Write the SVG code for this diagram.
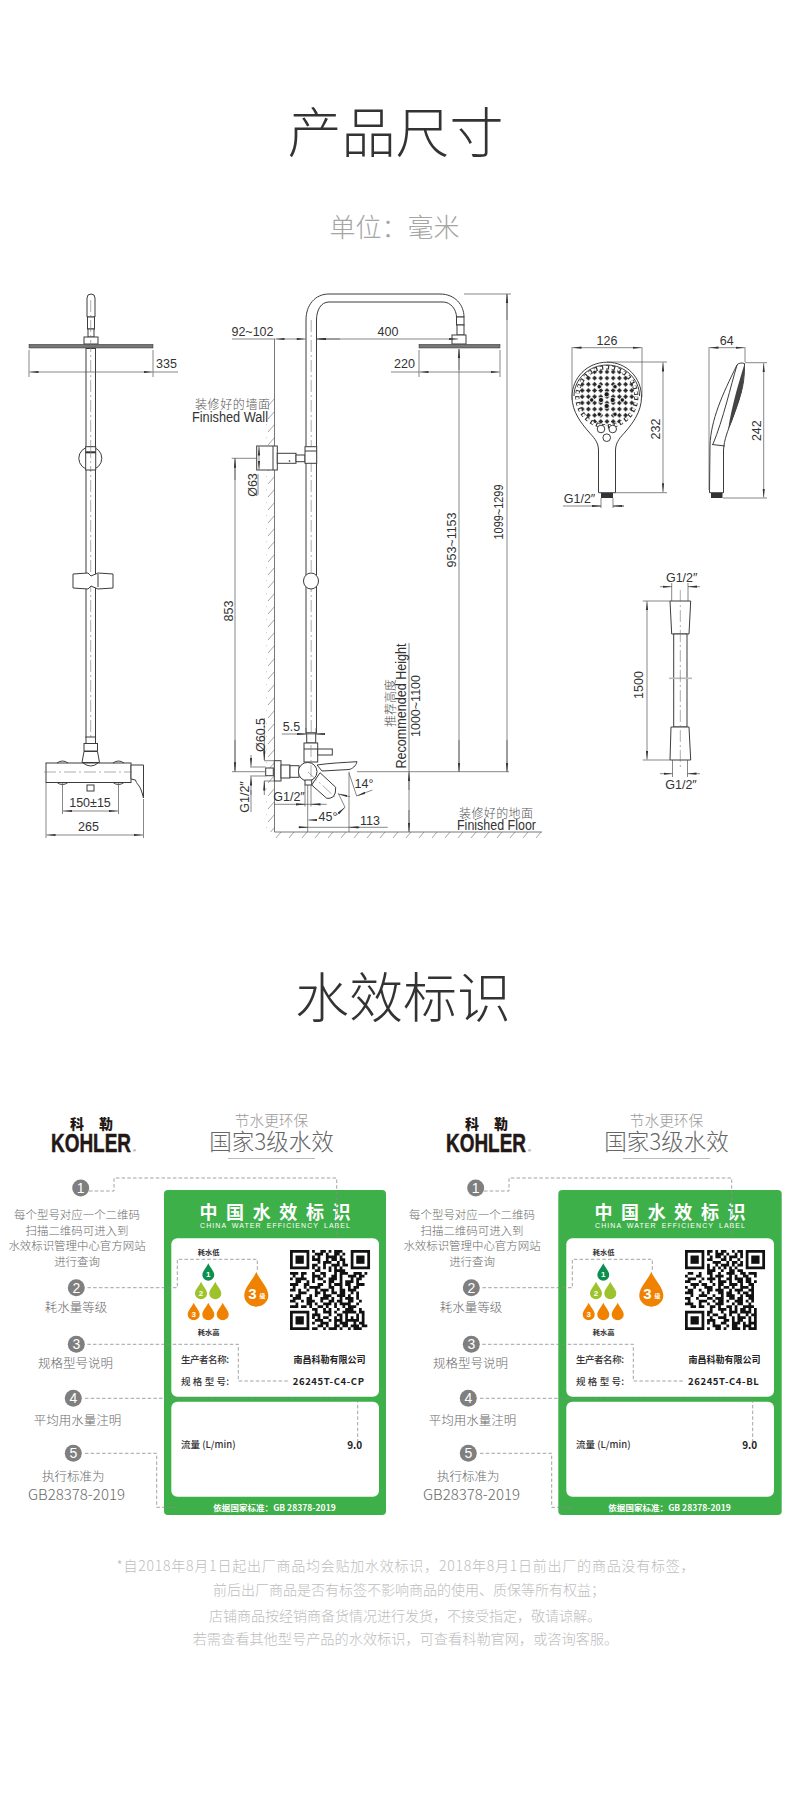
<svg xmlns="http://www.w3.org/2000/svg" width="790" height="1797" viewBox="0 0 790 1797">
<style>
text{font-family:"Liberation Sans","Noto Sans CJK SC",sans-serif;text-anchor:middle;dominant-baseline:central}
.h{font-family:"Noto Sans CJK SC",sans-serif;font-size:54px;font-weight:300;fill:#333}
.dim{font-size:12.5px;fill:#333}
.tall{font-size:14px;fill:#333}
.cn{font-family:"Noto Sans CJK SC",sans-serif;font-size:12px;fill:#555;font-weight:300}
.o{fill:#fff;stroke:#3c3c3c;stroke-width:1}
.on{fill:none;stroke:#3c3c3c;stroke-width:1}
.thin{fill:none;stroke:#555;stroke-width:.7}
.cl{fill:none;stroke:#777;stroke-width:.6;stroke-dasharray:12 3 2 3}
.d{fill:none;stroke:#555;stroke-width:.7;marker-start:url(#a);marker-end:url(#a)}
.e{fill:none;stroke:#555;stroke-width:.7;marker-end:url(#a)}
.dash{fill:none;stroke:#8a8a8a;stroke-width:.8;stroke-dasharray:3.5 2.2}
.g{font-family:"Noto Sans CJK SC",sans-serif;font-size:12.5px;fill:#6a6a6a;font-weight:300}
.n{fill:#7f7f7f}
.nt{font-size:14px;fill:#fff}
.wb{font-family:"Noto Sans CJK SC",sans-serif;fill:#fff;font-weight:700}
.lb{font-family:"Noto Sans CJK SC",sans-serif;font-size:9.5px;fill:#333;font-weight:500}
.bk{font-family:"Noto Sans CJK SC",sans-serif;font-size:9px;fill:#222;font-weight:700}
.ft{font-family:"Noto Sans CJK SC",sans-serif;font-size:14px;fill:#bdbdbd;font-weight:300}
</style>
<defs>
<marker id="a" markerUnits="userSpaceOnUse" markerWidth="10" markerHeight="4" refX="9" refY="2" orient="auto-start-reverse"><path d="M0 .9L9 2L0 3.1Z" fill="#333"/></marker>
<pattern id="hw" patternUnits="userSpaceOnUse" width="8" height="13" x="267" y="397"><path d="M1 9L8 1" stroke="#666" stroke-width=".6" fill="none"/></pattern>
<pattern id="hg" patternUnits="userSpaceOnUse" width="13" height="6" x="275" y="832"><path d="M1 6L6 0" stroke="#666" stroke-width=".6" fill="none"/></pattern>
<pattern id="lat" patternUnits="userSpaceOnUse" width="6.2" height="6.2" x="603.9" y="393.6"><rect width="6.2" height="6.2" fill="#fff"/><path d="M3.1 .7L5.5 3.1L3.1 5.5L.7 3.1Z" fill="#2a2a2a"/></pattern>
<clipPath id="fc"><circle cx="606.8" cy="396.8" r="29"/></clipPath>
<path id="drop" d="M0-10C1.5-6 7-1 7 3.5A7 6.5 0 0 1-7 3.5C-7-1-1.500-6 0-10Z"/>
<g id="qrf"><path d="M0 0h7v7h-7zM1 1v5h5v-5z" fill="#111" fill-rule="evenodd"/><rect x="2" y="2" width="3" height="3" fill="#111"/></g>
<g id="qrfs"><use href="#qrf"/><use href="#qrf" x="22"/><use href="#qrf" y="22"/></g>
<g id="lg">
<text x="91.500" y="1122.500" style="font-family:'Noto Sans CJK SC',sans-serif;font-size:14px;font-weight:900;fill:#231815" textLength="43">科 勒</text>
<text x="91" y="1142.500" style="font-size:25px;font-weight:700;fill:#231815;stroke:#231815;stroke-width:.5" textLength="80" lengthAdjust="spacingAndGlyphs">KOHLER</text>
<text x="134.500" y="1150" style="font-size:4px;fill:#231815">®</text>
<text x="271.500" y="1119" style="font-family:'Noto Sans CJK SC',sans-serif;font-size:14.7px;font-weight:300;fill:#999">节水更环保</text>
<text x="271.500" y="1140" style="font-family:'Noto Sans CJK SC',sans-serif;font-size:22.500px;font-weight:300;fill:#666">国家3级水效</text>
<rect x="228" y="1158" width="87" height=".8" fill="#aaa"/>
</g>
<g id="callouts">
<circle class="n" cx="80.700" cy="1188" r="8.500"/><text class="nt" x="80.700" y="1188">1</text>
<text class="g" style="font-size:11.45px" x="77" y="1214">每个型号对应一个二维码</text>
<text class="g" style="font-size:11.45px" x="77" y="1230">扫描二维码可进入到</text>
<text class="g" style="font-size:11.45px" x="77" y="1245">水效标识管理中心官方网站</text>
<text class="g" style="font-size:11.45px" x="77" y="1261">进行查询</text>
<circle class="n" cx="76.300" cy="1287.700" r="8.500"/><text class="nt" x="76.300" y="1287.700">2</text>
<text class="g" x="76" y="1306.700">耗水量等级</text>
<circle class="n" cx="76.300" cy="1344.300" r="8.500"/><text class="nt" x="76.300" y="1344.300">3</text>
<text class="g" x="75.500" y="1362.300">规格型号说明</text>
<circle class="n" cx="73.300" cy="1398.300" r="8.500"/><text class="nt" x="73.300" y="1398.300">4</text>
<text class="g" x="77.500" y="1419.300">平均用水量注明</text>
<circle class="n" cx="73.300" cy="1453.300" r="8.500"/><text class="nt" x="73.300" y="1453.300">5</text>
<text class="g" x="73.300" y="1475.700">执行标准为</text>
<text class="g" style="font-size:15px" x="76.500" y="1493.300">GB28378-2019</text>
</g>
<g id="cardbase">
<rect x="171.300" y="1238.300" width="207.700" height="158.400" rx="6" fill="#fff"/>
<rect x="171.300" y="1401.700" width="207.700" height="95" rx="6" fill="#fff"/>
<text class="wb" x="275" y="1210.700" style="font-size:18px" textLength="151">中国水效标识</text>
<text x="275" y="1225.300" style="font-size:7px;fill:#fff;word-spacing:2px" textLength="150">CHINA WATER EFFICIENCY LABEL</text>
<text x="208.700" y="1251.700" style="font-family:'Noto Sans CJK SC',sans-serif;font-size:7.300px;font-weight:700;fill:#333">耗水低</text>
<text x="208.700" y="1331.700" style="font-family:'Noto Sans CJK SC',sans-serif;font-size:7.300px;font-weight:700;fill:#333">耗水高</text>
<use href="#drop" transform="translate(208.300 1272) scale(.85 .88)" fill="#0d8f4f"/>
<use href="#drop" transform="translate(201 1290.500) scale(.86 .87)" fill="#9dc32c"/>
<use href="#drop" transform="translate(215.300 1290.500) scale(.86 .87)" fill="#9dc32c"/>
<use href="#drop" transform="translate(193.700 1311.500) scale(.86 .87)" fill="#ef8200"/>
<use href="#drop" transform="translate(208.300 1311.500) scale(.86 .87)" fill="#ef8200"/>
<use href="#drop" transform="translate(222.700 1311.500) scale(.86 .87)" fill="#ef8200"/>
<use href="#drop" transform="translate(256.300 1289.200) scale(1.720 1.750)" fill="#ef8200"/>
<text x="208.300" y="1274" style="font-size:8px;font-weight:700;fill:#fff">1</text>
<text x="201" y="1293" style="font-size:8px;font-weight:700;fill:#fff">2</text>
<text x="193.700" y="1314" style="font-size:8px;font-weight:700;fill:#fff">3</text>
<text x="252.500" y="1293" style="font-size:15px;font-weight:700;fill:#fff">3</text>
<text x="262.500" y="1295" style="font-family:'Noto Sans CJK SC',sans-serif;font-size:6px;font-weight:700;fill:#fff">级</text>
<text class="lb" x="205" y="1359" textLength="48">生产者名称:</text>
<text class="bk" x="329.500" y="1359" textLength="72">南昌科勒有限公司</text>
<text class="lb" x="205" y="1381" textLength="48">规 格 型 号:</text>
<text class="lb" x="208.300" y="1444" textLength="54.700">流量 (L/min)</text>
<text class="bk" style="font-size:10px" x="354.700" y="1444">9.0</text>
<text class="wb" x="274.500" y="1506.700" style="font-size:8.500px" textLength="122.400">依据国家标准：GB 28378-2019</text>
</g>
</defs>
<rect width="790" height="1797" fill="#fff"/>

<g id="titles">
<text class="h" x="395.500" y="129">产品尺寸</text>
<text x="394.500" y="225" style="font-family:'Noto Sans CJK SC',sans-serif;font-size:26px;font-weight:300;fill:#a5a5a5">单位：毫米</text>
<text class="h" x="403" y="994">水效标识</text>
</g>

<g id="front-view">
<path class="o" d="M87 317V298a4 4 0 0 1 8 0V317Z"/>
<rect class="o" x="87.500" y="317" width="7" height="12"/>
<path class="o" d="M88 329h6v8h-6z"/>
<rect class="o" x="84" y="337" width="14" height="7"/>
<rect x="29" y="344.300" width="124" height="3.700" fill="#777" stroke="#333" stroke-width=".5"/>
<rect class="o" x="86" y="348.500" width="9.500" height="389"/>
<path class="cl" d="M90.700 300V737"/>
<circle class="o" cx="90.300" cy="458.300" r="11.500"/>
<rect class="o" x="85.700" y="446.700" width="10" height="23.300"/>
<path d="M85.700 451.300h10v2h-10z" fill="#333"/>
<path class="cl" d="M90.700 446V470"/>
<path class="o" d="M73 574l15-1 3 3 7-3 15 1v14l-15 1-7-3-3 3-15-1z"/>
<path class="on" d="M98 574v13"/>
<rect class="o" x="86" y="737" width="9.500" height="6.500"/>
<rect class="o" x="84" y="743.500" width="13.500" height="7.500"/>
<path class="o" d="M84 751.500h13.500l2 11h-17.500z"/>
<rect class="o" x="46" y="763" width="85" height="19.500"/>
<path class="on" d="M57 763q5.500-4 11 0M113 763q5.500-4 11 0M57 782.500q5.500 4 11 0M113 782.500q5.500 4 11 0M83 763q8 6 15 0"/>
<rect class="o" x="87" y="785" width="7" height="6"/>
<path class="o" d="M131 765h12.500v33l-2-7c-2-6-5-7-6-11l-4.500-1z"/>
<path class="cl" d="M44 772H132"/>
<path class="thin" d="M29 350V377M153 350V377M46 783V838M143.500 799V838M62.500 783V814M118.500 783V814M153 372H178"/>
<path class="d" d="M29.500 372H152.500"/>
<path class="d" d="M63 811H118"/>
<path class="d" d="M46.500 835H143"/>
<text class="dim" x="166.500" y="364">335</text>
<text class="dim" x="90" y="803">150±15</text>
<text class="dim" x="88.500" y="827">265</text>
</g>

<g id="side-view">
<path class="o" d="M306 733V320C306 305 315 294 329 294H440C455 294 464 305 464 317H456.500C456.500 310 451 302 443 302H329C321 302 316.500 310 316.500 320V733Z"/>
<rect class="o" x="456.500" y="317" width="7.500" height="8"/>
<rect class="o" x="457" y="325" width="7" height="10"/>
<rect class="o" x="452" y="335" width="14" height="9"/>
<rect x="419" y="344.300" width="81" height="3.700" fill="#777" stroke="#333" stroke-width=".5"/>
<path class="cl" d="M311.200 320V733"/>
<path stroke="#555" stroke-width=".8" fill="none" d="M274.500 339V832H542"/>
<rect x="266.500" y="397" width="8" height="435" fill="url(#hw)"/>
<rect x="275" y="832" width="267" height="6" fill="url(#hg)"/>
<rect class="o" x="256.700" y="446" width="20.600" height="24"/>
<path class="on" d="M273 446V470"/>
<rect class="o" x="277.300" y="453.300" width="18.700" height="10"/>
<rect class="o" x="296" y="455" width="9" height="6.700"/>
<rect class="o" x="305" y="446.700" width="11.700" height="16.600"/>
<path class="on" d="M305 451h11.700"/>
<circle cx="289.500" cy="461" r=".8" fill="#222"/>
<ellipse class="o" cx="311" cy="581" rx="7.500" ry="8"/>
<rect class="o" x="306.700" y="733" width="9" height="10"/>
<rect class="o" x="304" y="743" width="13.700" height="19"/>
<path class="on" d="M304 749h13.700"/>
<rect class="o" x="317.700" y="749" width="14.600" height="6"/>
<rect class="o" x="265.700" y="768" width="7.600" height="7.700"/>
<rect class="o" x="274.300" y="760.700" width="6.700" height="20.300"/>
<rect class="o" x="281" y="765" width="9" height="13"/>
<rect class="o" x="290" y="765.700" width="9" height="11.600"/>
<circle class="o" cx="307.700" cy="771.700" r="9.300"/>
<path class="o" d="M317 765C330 763 345 762.500 357 761.700C356 766 352 769 349 769.500L322 771Z"/>
<path class="o" d="M320 772.700L335.700 787.300Q336 794 333.300 796.700Q330 799 326.700 798.300L311.700 785Z"/>
<rect class="o" x="305" y="780" width="6.700" height="5"/>
<path class="cl" d="M311 745V786M308 772L336 798"/>

<path class="thin" d="M232 339H275M391 372H419M419 350V377M500 350V377M464 294H511M231.700 458.300H256.700M232 771.700H265.700M357 771.700H509M409 643V832M264.300 718V760M264.300 781V790M264 760.700H274M264 781H274M250 767H265.700M250 776H265.700M251 790V812M274 804.300H326.700M305 785V806.500M311 785V806.500M307.700 785V832M349 771.700V832M298.300 827.300H387.700M459 349V772M507 294V772M281.700 734H323M306 728V734M316 728V734"/>
<path class="e" d="M300 339H275.500"/><path class="e" d="M296 339H305.500"/>
<path class="e" d="M340 339H317"/><path class="d" d="M317 339H458"/>
<path class="d" d="M419.500 372H499.500"/>
<path class="e" d="M459 370V349"/><path class="e" d="M507 320V294"/>
<path class="e" d="M459 740V771.500"/><path class="e" d="M507 740V771.500"/>
<path class="thin" d="M235 458.300V771.700"/>
<path class="e" d="M235 480V458.800"/><path class="e" d="M235 740V771.200"/>
<path class="thin" d="M258 474V495"/>
<path class="d" d="M259 446.500V469.500"/>
<path class="e" d="M409 790V772.200"/><path class="e" d="M409 810V831.500"/>
<path class="e" d="M264.300 745V760.200"/><path class="e" d="M264.300 795V781.500"/>
<path class="e" d="M251 755V766.500"/><path class="e" d="M251 795V776.500"/>
<path class="e" d="M297 804.300H305"/><path class="e" d="M320 804.300H311.500"/>
<path class="e" d="M298 734H306"/><path class="e" d="M323 734H316"/>
<path class="e" d="M299 827.300H307.500"/><path class="e" d="M360 827.300H349.500"/>
<path class="thin" d="M338.300 793.300L345 807.300M349 773L356.700 796"/>
<path class="e" d="M317 820H308.300"/><path class="e" d="M336.700 815L345 807.300"/>
<path class="e" d="M350 796.700L338.300 794"/><path class="e" d="M372.300 790L356.700 796"/>
<text class="dim" x="252.500" y="332">92~102</text>
<text class="dim" x="388" y="332">400</text>
<text class="dim" x="404.500" y="364">220</text>
<text class="cn" x="232.500" y="403" textLength="75">装修好的墙面</text>
<text class="tall" x="230" y="417" textLength="76" lengthAdjust="spacingAndGlyphs">Finished Wall</text>
<text class="dim" transform="translate(252.700 485) rotate(-90)">Ø63</text>
<text class="dim" transform="translate(229 611) rotate(-90)">853</text>
<text class="dim" transform="translate(452 540) rotate(-90)">953~1153</text>
<text class="dim" transform="translate(499 512) rotate(-90)" textLength="55" lengthAdjust="spacingAndGlyphs">1099~1299</text>
<text class="cn" transform="translate(389 703) rotate(-90)">推荐高度</text>
<text class="tall" transform="translate(401 706) rotate(-90)" textLength="125" lengthAdjust="spacingAndGlyphs">Recommended Height</text>
<text class="dim" transform="translate(416 706) rotate(-90)">1000~1100</text>
<text class="dim" transform="translate(261 735) rotate(-90)">Ø60.5</text>
<text class="dim" transform="translate(245 797) rotate(-90)">G1/2″</text>
<text class="dim" x="291.500" y="727">5.5</text>
<text class="dim" x="289" y="797">G1/2″</text>
<text class="dim" x="328" y="817">45°</text>
<text class="dim" x="364" y="784">14°</text>
<text class="dim" x="370" y="821">113</text>
<text class="cn" x="496" y="812" textLength="74">装修好的地面</text>
<text class="tall" x="496.500" y="825" textLength="79" lengthAdjust="spacingAndGlyphs">Finished Floor</text>
</g>

<g id="handshower-front">
<path class="o" d="M607 362.200C627 362.200 641.500 378 641.500 397C641.500 412 632 424 626 431C621 437 615.800 441 615.500 450V492.700H598.500V450C598.300 441 593 437 588 431C582 424 572 412 572 397C572 378 587 362.200 607 362.200Z" stroke-width="1.400"/>
<path class="on" d="M574 396C574 379 589 365 607 365C625 365 639.500 379 639.500 396"/>
<g clip-path="url(#fc)"><rect x="575" y="365" width="64" height="64" fill="url(#lat)"/></g>
<circle cx="606.800" cy="396.800" r="29.500" fill="none" stroke="#333" stroke-width="4.200" stroke-dasharray="3.200 2.800"/>
<circle cx="606.800" cy="396.800" r="29.500" fill="none" stroke="#fff" stroke-width="2.600" stroke-dasharray="2 4"/>
<g fill="#1c1c1c" stroke="#fff" stroke-width=".8"><circle cx="606.700" cy="394.300" r="2.600"/><circle cx="601" cy="400" r="2.600"/><circle cx="612.700" cy="400" r="2.600"/><circle cx="606.700" cy="406" r="2.600"/><circle cx="591.700" cy="400" r="2.200"/><circle cx="622.300" cy="400" r="2.200"/><circle cx="599.300" cy="386.700" r="2.200"/><circle cx="615" cy="386.700" r="2.200"/><circle cx="599.300" cy="414.300" r="2.200"/><circle cx="615" cy="414.300" r="2.200"/></g>
<circle class="o" cx="601" cy="429" r="3.800"/><circle class="o" cx="612.700" cy="429" r="3.800"/><circle class="o" cx="606.700" cy="437.700" r="3.800"/>
<rect x="601" y="493" width="12" height="5" fill="#333"/>
<path class="thin" d="M572 347V400M642 347V397M607 362H667M615 492.700H667M601 498V508M613 498V508M563 506H601M613 506H624"/>
<path class="d" d="M572.500 347.700H641.500"/><path class="d" d="M663 362.500V492.200"/>
<path class="e" d="M593 506H601"/><path class="e" d="M624 506H613"/>
<text class="dim" x="607" y="340.700">126</text>
<text class="dim" transform="translate(655.700 429) rotate(-90)">232</text>
<text class="dim" x="579.500" y="499">G1/2″</text>
</g>

<g id="handshower-side">
<path class="o" d="M709.500 492.700L710 445C711 420 722 395 737 365C738 363 742 362.500 744.500 363.500C745 390 738 400 732 420C728 430 724 440 723.500 450V492.700Z"/>
<path class="on" d="M737 365C731 385 723 420 713 444M712 444.500L725 446"/>
<path d="M744.500 364C745 390 736 412 728 430C732 405 738 385 744.500 364Z" fill="#444"/>
<rect x="711" y="493" width="11.500" height="5" fill="#333"/>
<path class="thin" d="M709 347V490M745 347V362M745 362.700H767M723 498H767"/>
<path class="d" d="M709.500 347.700H744.500"/><path class="d" d="M763.700 363.200V497.500"/>
<text class="dim" x="726.700" y="340.700">64</text>
<text class="dim" transform="translate(757 430.700) rotate(-90)">242</text>
</g>

<g id="hose">
<path class="o" d="M670 601H690.700L689 634H671.700Z"/>
<rect class="o" x="673.700" y="634" width="13.300" height="93"/>
<rect x="669" y="677.500" width="23" height="1.600" fill="#bbb"/>
<path class="o" d="M671 727H689L690.700 760H670Z"/>
<path class="cl" d="M680.300 590V770"/>
<path class="thin" d="M671.700 583V601M688 583V601M672.500 760V777M687.500 760V777M642.700 601H670M642.700 760H670"/>
<path class="e" d="M660 586.700H671.700"/><path class="e" d="M700 586.700H688"/>
<path class="e" d="M660 773.700H672.500"/><path class="e" d="M700 773.700H687.500"/>
<path class="d" d="M647 601.200V759.500"/>
<text class="dim" x="681.700" y="578">G1/2″</text>
<text class="dim" x="681" y="785">G1/2″</text>
<text class="dim" transform="translate(639.300 685) rotate(-90)">1500</text>
</g>

<g id="logo-left"><use href="#lg"/></g>
<g id="logo-right" transform="translate(395 0)"><use href="#lg"/></g>
<g id="callouts-left"><use href="#callouts"/></g>
<g id="callouts-right" transform="translate(395 0)"><use href="#callouts"/></g>

<g id="card-left">
<rect x="164" y="1190" width="222" height="325" rx="4" fill="#3eb049"/>
<use href="#cardbase"/>
<text class="bk" style="font-size:9.500px;letter-spacing:.6px" x="328.700" y="1381">26245T-C4-CP</text>
<g transform="translate(290 1250) scale(2.760)"><use href="#qrfs"/>
<path fill="none" stroke="#111" d="M8 .5h1m2 0h2m1 0h1m1 0h3M9 1.500h3m1 0h1m2 0h2m1 0h1M8 2.500h1m1 0h1m2 0h4m1 0h1M8 3.500h3m2 0h1m1 0h2m1 0h2M10 4.500h1m1 0h3m2 0h1m1 0h1M8 5.500h2m2 0h1m2 0h3m1 0h2M8 6.500h1m1 0h1m1 0h1m1 0h1m1 0h1m1 0h1M9 7.500h2m3 0h1m1 0h4M0 8.500h3m1 0h2m2 0h1m2 0h2m3 0h1m1 0h3m2 0h3m1 0h1M1 9.500h1m2 0h1m3 0h3m1 0h1m2 0h2m1 0h1m2 0h3m1 0h2M0 10.500h1m1 0h4m2 0h1m1 0h2m2 0h3m1 0h1m3 0h1m1 0h2M2 11.500h2m2 0h1m1 0h1m3 0h1m1 0h2m2 0h1m1 0h3m1 0h1M0 12.500h3m2 0h2m3 0h2m2 0h1m1 0h3m1 0h2m2 0h3M1 13.500h1m3 0h1m1 0h4m3 0h2m2 0h1m2 0h1m1 0h2M0 14.500h2m1 0h1m2 0h1m2 0h1m1 0h3m1 0h1m2 0h2m1 0h3M3 15.500h3m3 0h2m1 0h1m2 0h2m1 0h2m2 0h1m1 0h1M0 16.500h1m1 0h2m3 0h1m1 0h1m2 0h3m2 0h3m1 0h1m2 0h1M1 17.500h3m2 0h2m3 0h3m1 0h1m2 0h1m1 0h3m1 0h1M0 18.500h2m2 0h1m1 0h3m2 0h1m2 0h2m1 0h2m2 0h2m2 0h1M2 19.500h1m3 0h2m1 0h1m2 0h3m1 0h1m1 0h4m2 0h1M0 20.500h3m1 0h2m1 0h1m2 0h2m1 0h1m2 0h1m2 0h1m1 0h3M8 21.500h2m2 0h1m1 0h1m2 0h1m2 0h3m2 0h1M9 22.500h1m2 0h3m1 0h1m2 0h5m1 0h2M8 23.500h3m3 0h1m2 0h2m1 0h1m3 0h1m1 0h1M8 24.500h1m1 0h1m1 0h2m2 0h1m1 0h1m1 0h1m1 0h1m1 0h1m1 0h1M9 25.500h3m2 0h1m1 0h3m1 0h5m1 0h1M8 26.500h1m2 0h3m2 0h1m1 0h3m2 0h1m1 0h2M10 27.500h2m1 0h1m2 0h2m1 0h2m1 0h3m1 0h2M8 28.500h2m2 0h1m1 0h3m1 0h1m2 0h1m1 0h3"/></g>
</g>

<g id="card-right">
<rect x="558.300" y="1190" width="223.400" height="325" rx="4" fill="#3eb049"/>
<g transform="translate(395 0)"><use href="#cardbase"/>
<text class="bk" style="font-size:9.500px;letter-spacing:.6px" x="328.700" y="1381">26245T-C4-BL</text>
<g transform="translate(290 1250) scale(2.760)"><use href="#qrfs"/>
<path fill="none" stroke="#111" d="M8 .5h2m1 0h1m1 0h2m2 0h1m1 0h2M8 1.500h1m2 0h3m1 0h1m2 0h1m1 0h1M9 2.500h1m1 0h2m1 0h1m1 0h3m1 0h1M8 3.500h2m3 0h2m1 0h1m2 0h1M10 4.500h3m2 0h1m1 0h2m1 0h1M8 5.500h1m2 0h1m1 0h3m1 0h1m1 0h2M8 6.500h1m1 0h1m1 0h1m1 0h1m1 0h1m1 0h1M8 7.500h3m2 0h1m2 0h2m1 0h2M1 8.500h2m2 0h1m2 0h2m2 0h1m2 0h3m2 0h2m1 0h3M0 9.500h1m3 0h2m3 0h1m1 0h3m2 0h1m1 0h1m2 0h2m2 0h1M1 10.500h3m2 0h1m1 0h3m1 0h1m2 0h2m1 0h3m1 0h2M0 11.500h2m3 0h1m3 0h1m2 0h3m1 0h1m2 0h2m1 0h2m1 0h1M2 12.500h3m1 0h2m2 0h1m1 0h2m2 0h3m1 0h1m2 0h2M0 13.500h1m2 0h1m3 0h3m2 0h1m1 0h2m1 0h1m2 0h3m1 0h1M1 14.500h2m2 0h1m2 0h2m1 0h3m2 0h1m1 0h3m2 0h2M0 15.500h3m3 0h1m1 0h1m3 0h2m1 0h2m2 0h1m1 0h2m1 0h1M2 16.500h1m2 0h3m2 0h1m2 0h1m1 0h3m2 0h1m1 0h3M0 17.500h2m2 0h1m3 0h2m1 0h3m2 0h2m1 0h2m2 0h2M1 18.500h1m3 0h3m2 0h1m1 0h2m1 0h1m2 0h3m1 0h1m1 0h1M0 19.500h3m2 0h1m2 0h1m2 0h3m3 0h1m1 0h2m2 0h1M2 20.500h2m1 0h2m2 0h2m1 0h1m2 0h2m1 0h1m2 0h4M9 21.500h1m2 0h3m1 0h1m1 0h1m1 0h2m1 0h1m1 0h1M8 22.500h2m3 0h1m2 0h3m1 0h4m1 0h1M8 23.500h1m1 0h2m2 0h1m1 0h1m2 0h1m2 0h1m1 0h2M9 24.500h1m2 0h3m2 0h1m1 0h3m1 0h1m1 0h1M8 25.500h3m3 0h2m1 0h1m1 0h2m2 0h1m1 0h1M8 26.500h1m1 0h1m2 0h2m2 0h3m1 0h1m1 0h3M10 27.500h3m2 0h1m1 0h2m2 0h3m1 0h1M8 28.500h1m2 0h2m1 0h1m2 0h3m1 0h1m1 0h3"/></g>
</g>
</g>

<g id="connectors">
<path class="dash" d="M89 1191H114V1178H336.700V1237"/>
<path class="dash" d="M87.500 1287.700H177.300V1259.300H257.300V1271.700"/>
<path class="dash" d="M87.300 1344.300H238.300V1381H288.300"/>
<path class="dash" d="M85 1398.300H357.700V1443"/>
<path class="dash" d="M85 1453.300H156.700V1507.300H176.700"/>
<g transform="translate(395 0)">
<path class="dash" d="M89 1191H114V1178H336.700V1237"/>
<path class="dash" d="M87.500 1287.700H177.300V1259.300H257.300V1271.700"/>
<path class="dash" d="M87.300 1344.300H238.300V1381H288.300"/>
<path class="dash" d="M85 1398.300H357.700V1443"/>
<path class="dash" d="M85 1453.300H156.700V1507.300H176.700"/>
</g>
</g>

<g id="footer">
<text class="ft" x="405.500" y="1565" textLength="578">*自2018年8月1日起出厂商品均会贴加水效标识，2018年8月1日前出厂的商品没有标签，</text>
<text class="ft" x="409" y="1589">前后出厂商品是否有标签不影响商品的使用、质保等所有权益；</text>
<text class="ft" x="405" y="1615">店铺商品按经销商备货情况进行发货，不接受指定，敬请谅解。</text>
<text class="ft" style="font-size:14.200px" x="405.500" y="1638">若需查看其他型号产品的水效标识，可查看科勒官网，或咨询客服。</text>
</g>
</svg>
